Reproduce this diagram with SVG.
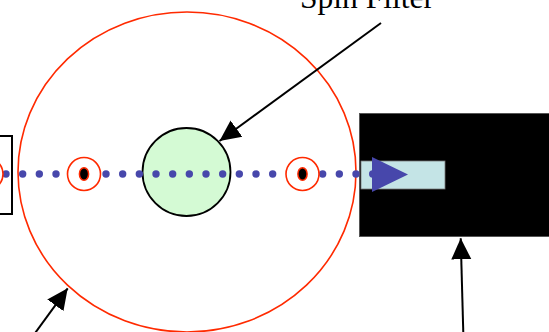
<svg xmlns="http://www.w3.org/2000/svg" width="549" height="332" viewBox="0 0 549 332">
<style>
.red{fill:none;stroke:#FF2A00;stroke-width:1.6}
.ring{fill:#fff;stroke:#FF2A00;stroke-width:1.6}
.core{fill:#000;stroke:#FF2A00;stroke-width:1.5}
.dot{fill:#4747AB}
.conn{stroke:#000;stroke-width:2;fill:none}
.lbl{font-family:"Liberation Serif","Times New Roman",serif;font-size:31.5px;fill:#000}
</style>
<defs>
<marker id="ah" markerUnits="userSpaceOnUse" markerWidth="22" markerHeight="22" viewBox="0 0 22 22" refX="21" refY="11" orient="auto">
<path d="M0,1 L21,11 L0,21 Z" fill="#000"/>
</marker>
</defs>
<rect x="0" y="0" width="549" height="332" fill="#fff"/>
<g id="left-box"><rect x="-10" y="136" width="22" height="78" fill="#fff" stroke="#000" stroke-width="2"/></g>
<g id="outer-ellipse"><ellipse cx="187" cy="172" rx="169" ry="160" class="red"/></g>
<g id="detector">
<rect x="359.5" y="113.5" width="200" height="123" fill="#000" stroke="#555" stroke-width="1"/>
<rect x="361" y="161" width="84" height="28" fill="#C4E4E6" stroke="#777" stroke-width="0.8"/>
</g>
<g id="spin-filter"><circle cx="186.5" cy="172" r="44" fill="#D4FAD4" stroke="#000" stroke-width="1.8"/></g>
<g id="beam">
<circle class="dot" cx="6" cy="174" r="3.7"/>
<circle class="dot" cx="22.67" cy="174" r="3.7"/>
<circle class="dot" cx="39.33" cy="174" r="3.7"/>
<circle class="dot" cx="56" cy="174" r="3.7"/>
<circle class="dot" cx="106" cy="174" r="3.7"/>
<circle class="dot" cx="122.67" cy="174" r="3.7"/>
<circle class="dot" cx="139.33" cy="174" r="3.7"/>
<circle class="dot" cx="156" cy="174" r="3.7"/>
<circle class="dot" cx="172.67" cy="174" r="3.7"/>
<circle class="dot" cx="189.33" cy="174" r="3.7"/>
<circle class="dot" cx="206" cy="174" r="3.7"/>
<circle class="dot" cx="222.67" cy="174" r="3.7"/>
<circle class="dot" cx="239.33" cy="174" r="3.7"/>
<circle class="dot" cx="256" cy="174" r="3.7"/>
<circle class="dot" cx="272.67" cy="174" r="3.7"/>
<circle class="dot" cx="322.67" cy="174" r="3.7"/>
<circle class="dot" cx="339.33" cy="174" r="3.7"/>
<circle class="dot" cx="356" cy="174" r="3.7"/>
<circle class="dot" cx="372.67" cy="174" r="3.7"/>
<polygon class="dot" points="372,157 408,174.5 372,192"/>
</g>
<g id="atom-left-edge"><circle class="ring" cx="-13.5" cy="174" r="16.5"/></g>
<g id="atom-left"><circle class="ring" cx="84" cy="174" r="16.5"/><ellipse class="core" cx="84" cy="174" rx="4.6" ry="6.3"/></g>
<g id="atom-right"><circle class="ring" cx="302.5" cy="174" r="16.5"/><ellipse class="core" cx="302.5" cy="174" rx="4.6" ry="6.3"/></g>
<g id="label-spin-filter"><text class="lbl" x="300" y="7.5">Spin Filter</text></g>
<g id="connectors">
<line class="conn" x1="381" y1="23" x2="219.5" y2="141" marker-end="url(#ah)"/>
<line class="conn" x1="30" y1="340" x2="67.7" y2="288.3" marker-end="url(#ah)"/>
<line class="conn" x1="463.5" y1="340" x2="460.7" y2="238.3" marker-end="url(#ah)"/>
</g>
</svg>
